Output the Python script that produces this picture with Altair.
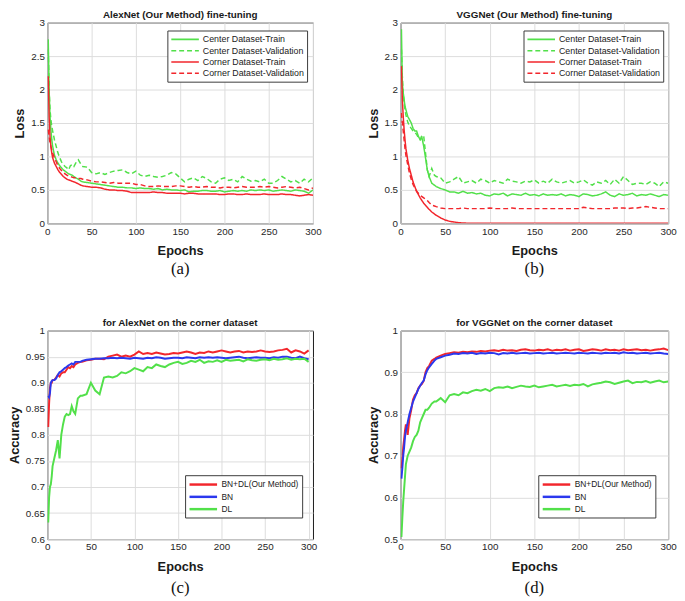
import altair as alt
import pandas as pd

# ---------------- data ----------------
EPOCHS = [1, 2, 3, 4, 5, 6, 8, 10, 12, 14, 16, 18, 20, 22, 24, 26, 28, 30, 32, 35, 38,
          40, 45, 50, 55, 60, 65, 70, 75, 80, 85,
          90, 95, 100, 105, 110, 115, 120, 125, 130, 135,
          140, 145, 150, 155, 160, 165, 170, 175, 180, 185,
          190, 195, 200, 205, 210, 215, 220, 225, 230, 235,
          240, 245, 250, 255, 260, 265, 270, 275, 280, 285,
          290, 295, 300]

LOSS_SERIES = ["Center Dataset-Train", "Center Dataset-Validation",
               "Corner Dataset-Train", "Corner Dataset-Validation"]
ACC_SERIES = ["BN+DL(Our Method)", "BN", "DL"]

X_TICKS = [0, 50, 100, 150, 200, 250, 300]
LOSS_TICKS = [0, 0.5, 1, 1.5, 2, 2.5, 3]
ACC_TICKS_C = [0.6, 0.65, 0.7, 0.75, 0.8, 0.85, 0.9, 0.95, 1]
ACC_TICKS_D = [0.5, 0.6, 0.7, 0.8, 0.9, 1]

# (a) AlexNet loss
A_CENTER_TRAIN = [2.75, 2.0, 1.6, 1.4, 1.25, 1.15, 1.02, 0.95, 0.9, 0.86,
                  0.83, 0.8, 0.78, 0.76, 0.74, 0.73, 0.72, 0.7, 0.68, 0.66, 0.63,
                  0.62, 0.61, 0.6, 0.59, 0.58, 0.57, 0.56, 0.55, 0.54, 0.54,
                  0.53, 0.53, 0.52, 0.53, 0.52, 0.52, 0.51, 0.52, 0.5, 0.51,
                  0.5, 0.5, 0.49, 0.5, 0.47, 0.48, 0.48, 0.49, 0.49, 0.48,
                  0.48, 0.49, 0.47, 0.48, 0.49, 0.48, 0.49, 0.48, 0.5, 0.49,
                  0.5, 0.49, 0.5, 0.48, 0.49, 0.5, 0.49, 0.48, 0.5, 0.49,
                  0.48, 0.45, 0.5]
A_CENTER_VAL = [2.6, 2.0, 1.7, 1.55, 1.45, 1.38, 1.25, 1.15, 1.05, 0.98,
                0.92, 0.88, 0.85, 0.83, 0.8, 0.86, 0.88, 0.85, 0.9, 0.95, 0.88,
                0.85, 0.84, 0.76, 0.74, 0.76, 0.73, 0.76, 0.78, 0.79, 0.8,
                0.76, 0.74, 0.78, 0.72, 0.7, 0.72, 0.7, 0.69, 0.7, 0.72,
                0.76, 0.74, 0.68, 0.62, 0.66, 0.68, 0.64, 0.7, 0.67, 0.62,
                0.6, 0.66, 0.68, 0.64, 0.66, 0.62, 0.7, 0.66, 0.63, 0.64,
                0.62, 0.66, 0.6, 0.6, 0.64, 0.7, 0.66, 0.62, 0.64, 0.6,
                0.66, 0.62, 0.68]
A_CORNER_TRAIN = [2.2, 1.6, 1.3, 1.15, 1.05, 0.98, 0.9, 0.85, 0.8, 0.76,
                  0.73, 0.7, 0.68, 0.66, 0.65, 0.64, 0.63, 0.62, 0.61, 0.59, 0.57,
                  0.56, 0.55, 0.54, 0.54, 0.53, 0.51, 0.5, 0.5, 0.49, 0.49,
                  0.48, 0.46, 0.46, 0.46, 0.46, 0.46, 0.47, 0.46, 0.46, 0.45,
                  0.45, 0.45, 0.45, 0.44, 0.45, 0.45, 0.44, 0.44, 0.44, 0.44,
                  0.44, 0.43, 0.43, 0.44, 0.44, 0.43, 0.43, 0.44, 0.43, 0.43,
                  0.43, 0.44, 0.43, 0.43, 0.43, 0.44, 0.43, 0.43, 0.42, 0.41,
                  0.42, 0.43, 0.42]
A_CORNER_VAL = [1.4, 1.3, 1.2, 1.15, 1.1, 1.05, 0.98, 0.92, 0.86, 0.82,
                0.79, 0.76, 0.74, 0.72, 0.71, 0.7, 0.69, 0.68, 0.68, 0.67, 0.67,
                0.66, 0.65, 0.63, 0.62, 0.62, 0.61, 0.6, 0.61, 0.6, 0.6,
                0.6, 0.6, 0.58, 0.58, 0.56, 0.55, 0.55, 0.56, 0.55, 0.55,
                0.55, 0.56, 0.56, 0.55, 0.54, 0.55, 0.54, 0.54, 0.55, 0.54,
                0.54, 0.53, 0.54, 0.54, 0.53, 0.54, 0.55, 0.54, 0.54, 0.54,
                0.55, 0.54, 0.55, 0.54, 0.53, 0.54, 0.55, 0.54, 0.53, 0.54,
                0.52, 0.5, 0.53]

# (b) VGGNet loss
B_CENTER_TRAIN = [2.9, 2.1, 1.95, 1.85, 1.75, 1.7, 1.6, 1.55, 1.5, 1.42,
                  1.38, 1.38, 1.3, 1.25, 1.28, 1.15, 0.98, 0.8, 0.7, 0.6, 0.57,
                  0.55, 0.52, 0.5, 0.47, 0.47, 0.45, 0.48, 0.45, 0.46, 0.44,
                  0.45, 0.42, 0.41, 0.44, 0.43, 0.45, 0.41, 0.44, 0.43, 0.42,
                  0.45, 0.42, 0.43, 0.41, 0.44, 0.42, 0.43, 0.42, 0.44, 0.41,
                  0.43, 0.42, 0.4, 0.44, 0.43, 0.41, 0.42, 0.44, 0.47, 0.42,
                  0.4, 0.44, 0.42, 0.43, 0.45, 0.41, 0.43, 0.42, 0.44, 0.42,
                  0.4, 0.43, 0.42]
B_CENTER_VAL = [2.6, 2.2, 1.95, 1.8, 1.7, 1.62, 1.52, 1.45, 1.42, 1.38,
                1.36, 1.33, 1.28, 1.25, 1.32, 1.3, 1.05, 0.8, 0.7, 0.82, 0.72,
                0.7, 0.68, 0.6, 0.62, 0.66, 0.7, 0.6, 0.62, 0.64, 0.6,
                0.66, 0.64, 0.6, 0.64, 0.62, 0.6, 0.66, 0.63, 0.62, 0.6,
                0.63, 0.62, 0.65, 0.6, 0.63, 0.6, 0.66, 0.62, 0.6, 0.62,
                0.64, 0.6, 0.62, 0.65, 0.6, 0.57, 0.62, 0.6, 0.64, 0.58,
                0.66, 0.6, 0.7, 0.64, 0.58, 0.6, 0.6, 0.58, 0.62, 0.6,
                0.55, 0.62, 0.6]
B_CORNER_TRAIN = [2.35, 1.85, 1.6, 1.4, 1.25, 1.12, 0.95, 0.82, 0.72, 0.62,
                  0.55, 0.48, 0.43, 0.38, 0.34, 0.3, 0.27, 0.24, 0.21, 0.17, 0.14,
                  0.12, 0.08, 0.05, 0.03, 0.02, 0.01, 0.005, 0.003, 0.002, 0.0,
                  0.0, 0.0, 0.0, 0.0, 0.0, 0.0, 0.0, 0.0, 0.0, 0.0,
                  0.0, 0.0, 0.0, 0.0, 0.0, 0.0, 0.0, 0.0, 0.0, 0.0,
                  0.0, 0.0, 0.0, 0.0, 0.0, 0.0, 0.0, 0.0, 0.0, 0.0,
                  0.0, 0.0, 0.0, 0.0, 0.0, 0.0, 0.0, 0.0, 0.0, 0.0,
                  0.0, 0.0, 0.0]
B_CORNER_VAL = [1.65, 1.5, 1.38, 1.25, 1.12, 1.02, 0.88, 0.75, 0.66, 0.58,
                0.53, 0.48, 0.45, 0.42, 0.4, 0.38, 0.36, 0.34, 0.31, 0.27, 0.26,
                0.25, 0.23, 0.22, 0.22, 0.22, 0.22, 0.23, 0.22, 0.22, 0.22,
                0.22, 0.22, 0.23, 0.22, 0.22, 0.22, 0.22, 0.23, 0.22, 0.22,
                0.22, 0.22, 0.22, 0.22, 0.22, 0.22, 0.22, 0.22, 0.22, 0.22,
                0.22, 0.22, 0.22, 0.24, 0.23, 0.22, 0.22, 0.22, 0.22, 0.22,
                0.23, 0.23, 0.23, 0.22, 0.23, 0.23, 0.24, 0.25, 0.24, 0.23,
                0.22, 0.22, 0.22]

# (c) AlexNet accuracy
C_BNDL = [0.815, 0.86, 0.89, 0.9, 0.9, 0.905, 0.905, 0.91, 0.915, 0.912,
          0.918, 0.92, 0.92, 0.925, 0.93, 0.928, 0.932, 0.93, 0.935, 0.938, 0.94,
          0.94, 0.943, 0.944, 0.946, 0.946, 0.945, 0.95, 0.952, 0.954, 0.95,
          0.952, 0.95, 0.954, 0.96, 0.955, 0.957, 0.955, 0.958, 0.956, 0.954,
          0.955, 0.957, 0.956, 0.958, 0.96, 0.958, 0.955, 0.958, 0.957, 0.96,
          0.958, 0.96, 0.962, 0.96, 0.958, 0.96, 0.961, 0.958, 0.96, 0.959,
          0.96, 0.962, 0.96, 0.959, 0.96, 0.962, 0.963, 0.965, 0.958, 0.962,
          0.96, 0.956, 0.962]
C_BN = [0.875, 0.872, 0.88, 0.9, 0.903, 0.905, 0.905, 0.908, 0.915, 0.92,
        0.922, 0.925, 0.928, 0.93, 0.933, 0.935, 0.937, 0.935, 0.94, 0.94, 0.94,
        0.942, 0.944, 0.945, 0.946, 0.946, 0.947, 0.947, 0.948, 0.947, 0.948,
        0.947, 0.946, 0.948, 0.947, 0.946, 0.948, 0.947, 0.949, 0.948, 0.946,
        0.947, 0.948, 0.948, 0.947, 0.949, 0.948, 0.947, 0.949, 0.948, 0.949,
        0.948, 0.949, 0.948, 0.947, 0.948, 0.949, 0.95, 0.948, 0.947, 0.948,
        0.949, 0.948, 0.948, 0.947, 0.949, 0.948, 0.95, 0.95, 0.948, 0.947,
        0.95, 0.947, 0.945]
C_DL = [0.632, 0.68, 0.7, 0.705, 0.72, 0.74, 0.755, 0.77, 0.79, 0.755,
        0.8, 0.82, 0.835, 0.84, 0.838, 0.84, 0.855, 0.845, 0.84, 0.87, 0.875,
        0.875, 0.878, 0.9, 0.885, 0.878, 0.91, 0.912, 0.91, 0.913, 0.92,
        0.918, 0.922, 0.928, 0.925, 0.922, 0.93, 0.928, 0.935, 0.932, 0.93,
        0.935, 0.938, 0.94, 0.936, 0.938, 0.942, 0.94, 0.944, 0.938, 0.941,
        0.94, 0.943, 0.94, 0.944, 0.942, 0.943, 0.944, 0.941, 0.945, 0.943,
        0.942, 0.944, 0.945, 0.943, 0.946, 0.944, 0.945, 0.947, 0.944, 0.946,
        0.945, 0.946, 0.94]

# (d) VGGNet accuracy
D_BNDL = [0.67, 0.69, 0.72, 0.74, 0.76, 0.775, 0.75, 0.79, 0.81, 0.835,
          0.845, 0.85, 0.862, 0.868, 0.872, 0.88, 0.9, 0.91, 0.915, 0.928, 0.932,
          0.935, 0.94, 0.944, 0.946, 0.948, 0.947, 0.949, 0.948, 0.95, 0.949,
          0.951, 0.95, 0.952, 0.953, 0.951, 0.954, 0.952, 0.953, 0.951, 0.954,
          0.955, 0.953, 0.952, 0.954, 0.953, 0.955, 0.952, 0.954, 0.953, 0.955,
          0.952, 0.954, 0.955, 0.951, 0.953, 0.955, 0.954, 0.952, 0.955, 0.953,
          0.954, 0.952, 0.955, 0.953, 0.954, 0.955, 0.953, 0.954, 0.952, 0.954,
          0.955, 0.957, 0.953]
D_BN = [0.645, 0.67, 0.7, 0.72, 0.745, 0.76, 0.78, 0.8, 0.815, 0.83,
        0.84, 0.85, 0.86, 0.868, 0.875, 0.88, 0.895, 0.905, 0.912, 0.92, 0.928,
        0.932, 0.936, 0.94, 0.942, 0.945, 0.944, 0.946, 0.945, 0.947, 0.944,
        0.946, 0.945, 0.947, 0.946, 0.943, 0.946, 0.945, 0.947, 0.945, 0.946,
        0.947, 0.945, 0.946, 0.947, 0.945, 0.946, 0.947, 0.945, 0.946, 0.947,
        0.946, 0.945, 0.947, 0.946, 0.945, 0.947, 0.946, 0.945, 0.947, 0.946,
        0.947, 0.945, 0.948, 0.946, 0.947, 0.945, 0.946, 0.947, 0.945, 0.946,
        0.947, 0.945, 0.944]
D_DL = [0.505, 0.55, 0.59, 0.62, 0.65, 0.68, 0.7, 0.71, 0.72, 0.735,
        0.745, 0.75, 0.76, 0.78, 0.79, 0.8, 0.81, 0.81, 0.815, 0.825, 0.83,
        0.83, 0.838, 0.828, 0.845, 0.848, 0.845, 0.852, 0.85, 0.855, 0.858,
        0.856, 0.86, 0.855, 0.862, 0.864, 0.863, 0.866, 0.862, 0.865, 0.868,
        0.866, 0.865, 0.868, 0.864, 0.866, 0.868, 0.87, 0.866, 0.868, 0.87,
        0.867, 0.87, 0.869, 0.872, 0.866, 0.871, 0.873, 0.875, 0.878, 0.876,
        0.872, 0.875, 0.878, 0.88, 0.874, 0.877, 0.876, 0.879, 0.875, 0.878,
        0.88, 0.876, 0.878]

GREEN = "#52e04a"
RED = "#f2262c"
BLUE = "#2b38ee"
FONT = "Liberation Sans"


def long_df(names, series_values):
    rows = []
    for name, vals in zip(names, series_values):
        for e, v in zip(EPOCHS, vals):
            rows.append({"epoch": e, "value": v, "series": name})
    return pd.DataFrame(rows)


def panel(df, names, colors, dashes, title, tag, ytitle, ydom, yticks, xdom,
          w, h, lx, ly, sw, lsw, lfs, tag_dy):
    leg = alt.Legend(title=None, orient="none", legendX=lx, legendY=ly,
                     symbolType="M-1,0L4.6,0", symbolSize=100,
                     symbolStrokeWidth=lsw, labelOffset=21, labelFontSize=lfs,
                     labelFont=FONT, labelColor="#1a1a1a",
                     strokeColor="#3a3a3a", fillColor="white", padding=3,
                     rowPadding=0.5, labelLimit=250)
    enc = dict(
        x=alt.X("epoch:Q", scale=alt.Scale(domain=xdom, nice=False),
                axis=alt.Axis(values=X_TICKS, title="Epochs", titlePadding=9)),
        y=alt.Y("value:Q", scale=alt.Scale(domain=ydom, nice=False),
                axis=alt.Axis(values=yticks, format="~g", title=ytitle)),
        color=alt.Color("series:N", scale=alt.Scale(domain=names, range=colors),
                        legend=leg),
        order=alt.Order("epoch:Q"),
    )
    if dashes is not None:
        enc["strokeDash"] = alt.StrokeDash(
            "series:N", scale=alt.Scale(domain=names, range=dashes), legend=leg)
    lines = alt.Chart(df).mark_line(strokeWidth=sw, clip=True).encode(**enc)
    head = alt.Chart(pd.DataFrame({"t": [title]})).mark_text(
        font=FONT, fontSize=10, fontWeight="bold", color="#1a1a1a", baseline="bottom"
    ).encode(text="t:N", x=alt.value(w / 2), y=alt.value(-3))
    lab = alt.Chart(pd.DataFrame({"t": [tag]})).mark_text(
        font="Liberation Serif", fontSize=17, color="#111", baseline="middle"
    ).encode(text="t:N", x=alt.value(w / 2), y=alt.value(h + tag_dy))
    return alt.layer(lines, head, lab).properties(width=w, height=h)


LOSS_COLORS = [GREEN, GREEN, RED, RED]
LOSS_DASHES = [[1, 0], [5, 3], [1, 0], [5, 3]]
ACC_COLORS = [RED, BLUE, GREEN]

W1, W2 = 270, 272
H1, H2 = 204, 212

pa = panel(long_df(LOSS_SERIES, [A_CENTER_TRAIN, A_CENTER_VAL, A_CORNER_TRAIN, A_CORNER_VAL]),
           LOSS_SERIES, LOSS_COLORS, LOSS_DASHES,
           "AlexNet (Our Method) fine-tuning", "(a)", "Loss", [0, 3], LOSS_TICKS,
           [0, 300], W1, H1, 122, 8, 1.5, 1.6, 9, 46)
pb = panel(long_df(LOSS_SERIES, [B_CENTER_TRAIN, B_CENTER_VAL, B_CORNER_TRAIN, B_CORNER_VAL]),
           LOSS_SERIES, LOSS_COLORS, LOSS_DASHES,
           "VGGNet (Our Method) fine-tuning", "(b)", "Loss", [0, 3], LOSS_TICKS,
           [0, 300], W2, H1, 125, 8, 1.5, 1.6, 9, 46)
pc = panel(long_df(ACC_SERIES, [C_BNDL, C_BN, C_DL]),
           ACC_SERIES, ACC_COLORS, None,
           "for AlexNet on the corner dataset", "(c)", "Accuracy", [0.6, 1], ACC_TICKS_C,
           [0, 305], W1, H2, 140, 147, 2, 2.5, 8.5, 50)
pd_ = panel(long_df(ACC_SERIES, [D_BNDL, D_BN, D_DL]),
            ACC_SERIES, ACC_COLORS, None,
            "for VGGNet on the corner dataset", "(d)", "Accuracy", [0.5, 1], ACC_TICKS_D,
            [0, 300], W2, H2, 140, 147, 2, 2.5, 8.5, 50)

chart = alt.concat(pa, pb, pc, pd_, columns=2, spacing={"row": 40, "column": 45}).resolve_scale(
    color="independent", strokeDash="independent"
).resolve_legend(
    color="independent", strokeDash="independent"
).properties(
    padding={"left": 0, "top": -4, "right": 0, "bottom": 0}
).configure(
    font=FONT
).configure_view(
    stroke="#1a1a1a", strokeWidth=1
).configure_axis(
    grid=True, gridColor="#dcdcdc", gridWidth=1, domain=False, ticks=False,
    labelFont=FONT, labelFontSize=10, labelColor="#262626", labelPadding=3,
    labelFlush=False, labelOverlap=False,
    titleFont=FONT, titleFontSize=13, titleFontWeight="bold", titleColor="#1a1a1a",
    titlePadding=4
)

chart.save("out.html", embed_options={"renderer": "svg", "actions": False})
